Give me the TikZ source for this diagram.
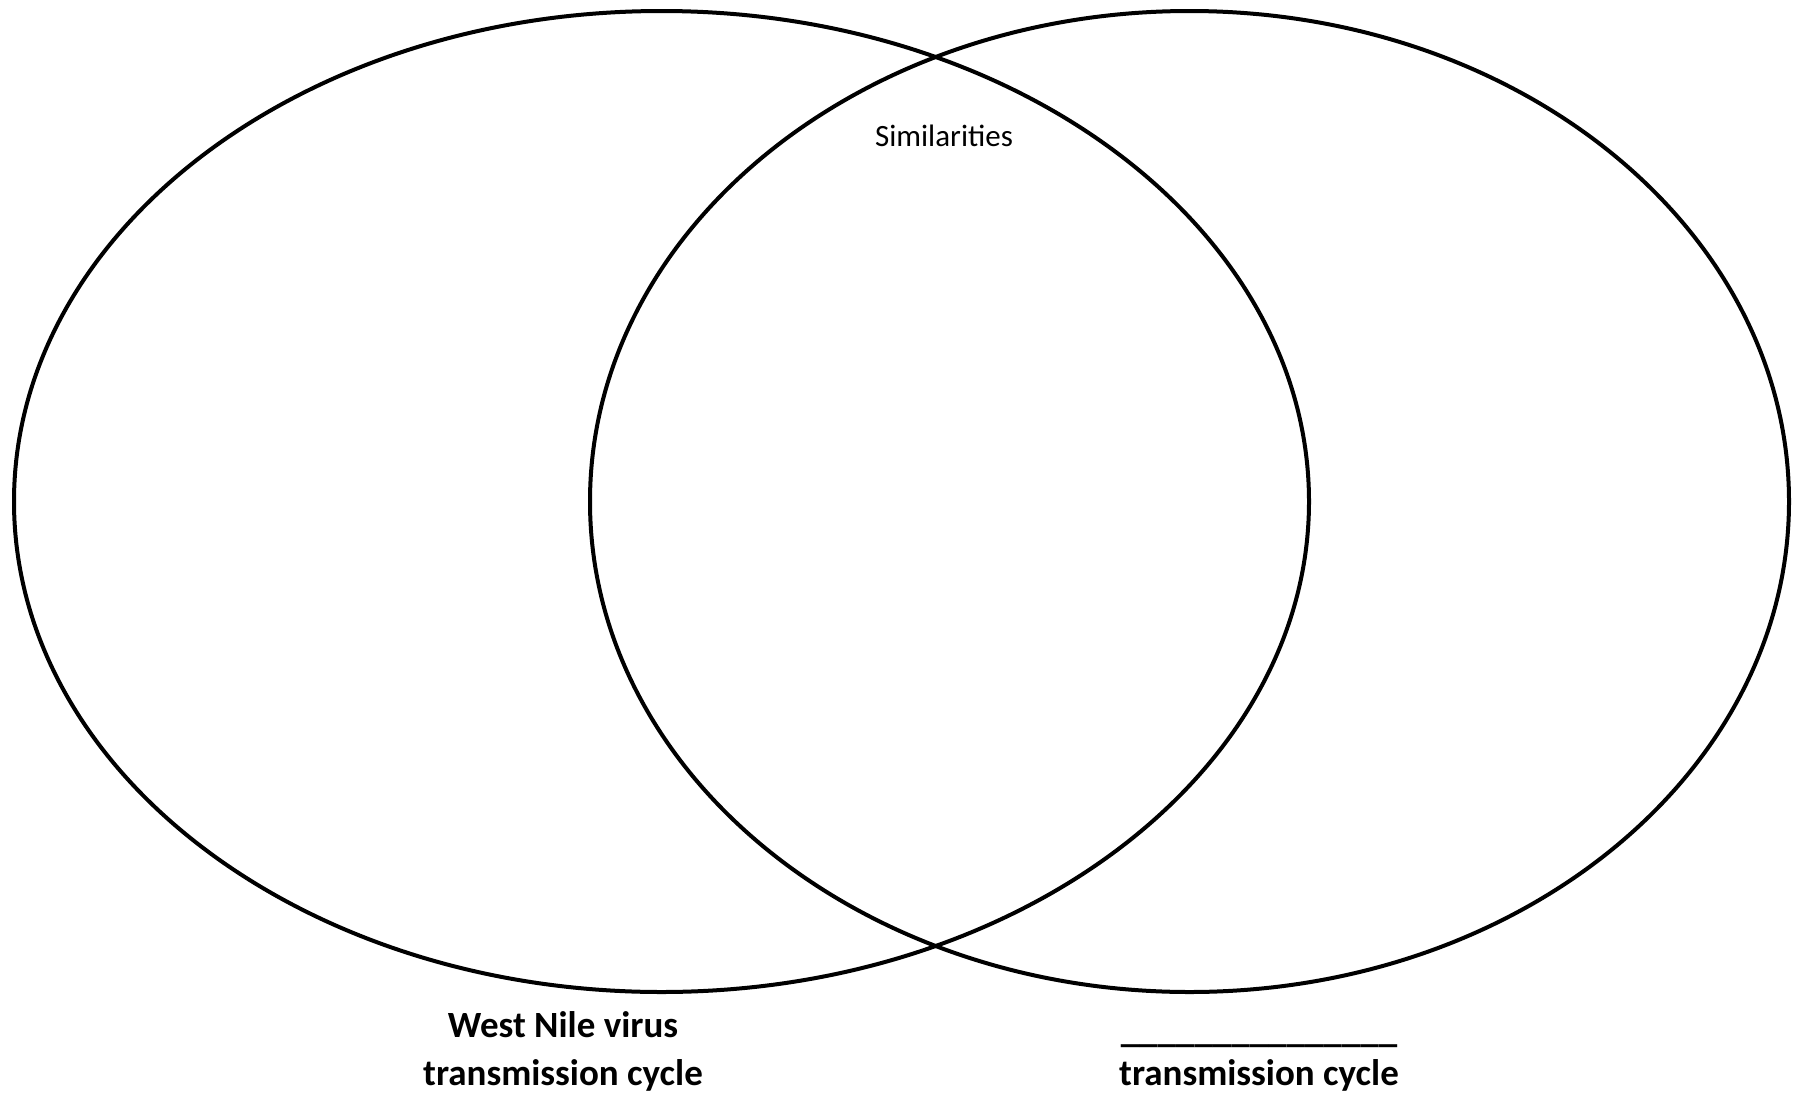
\documentclass[tikz,border=0pt]{standalone}
\usepackage{fontspec}
\setmainfont{Carlito}
\usetikzlibrary{shapes.geometric}
\begin{document}
\begin{tikzpicture}[x=1pt,y=-1pt,
  ring/.style={draw=black, line width=4pt, ellipse, inner sep=0pt, outer sep=0pt},
  lbl/.style={font=\fontsize{37}{44}\selectfont\bfseries, inner sep=0pt, anchor=base},
  sim/.style={font=\fontsize{31}{37}\selectfont, inner sep=0pt}]
\useasboundingbox[fill=white] (0,0) rectangle (1800,1093);
\node[ring, minimum width=1295pt, minimum height=981pt] (left) at (661.5,501.5) {};
\node[ring, minimum width=1199pt, minimum height=981pt] (right) at (1189.5,501.5) {};
\node[sim] (similar) at (944,136) {Similarities};
\node[lbl] (wnv1) at (563,1037) {West Nile virus};
\node[lbl] (wnv2) at (563,1085) {transmission cycle};
\node[lbl] (blank1) at (1259,1042) {\_\_\_\_\_\_\_\_\_\_\_\_\_\_\_};
\node[lbl] (blank2) at (1259,1085) {transmission cycle};
\end{tikzpicture}
\end{document}
